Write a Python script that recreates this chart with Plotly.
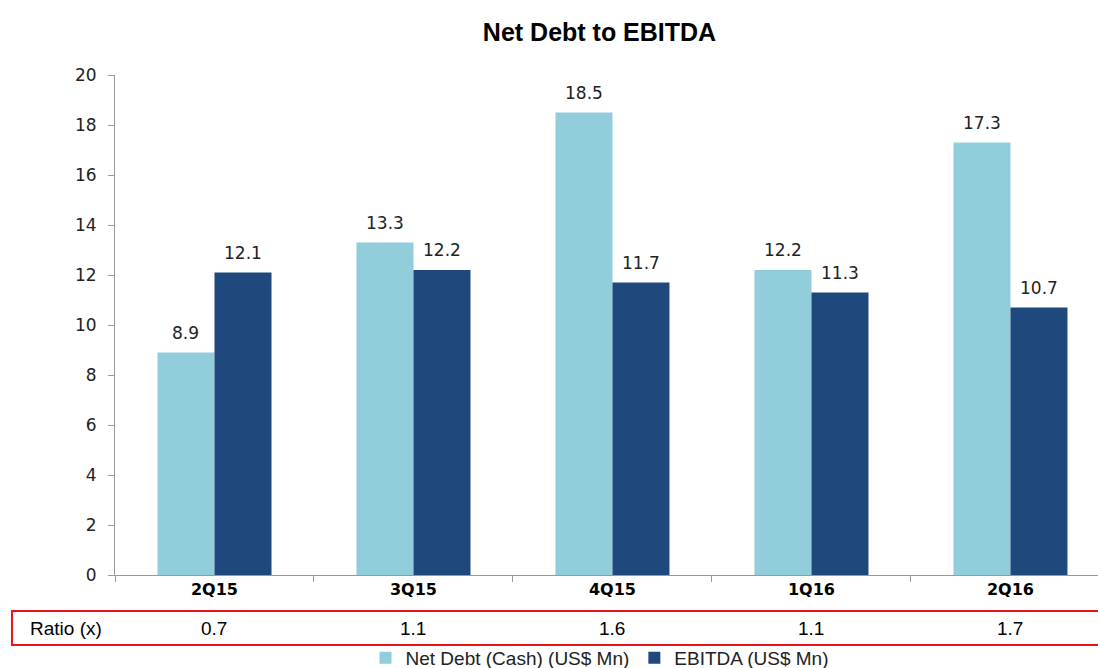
import plotly.graph_objects as go

categories = ["2Q15", "3Q15", "4Q15", "1Q16", "2Q16"]
net_debt = [8.9, 13.3, 18.5, 12.2, 17.3]
ebitda = [12.1, 12.2, 11.7, 11.3, 10.7]
ratios = ["0.7", "1.1", "1.6", "1.1", "1.7"]
y_ticks = [0, 2, 4, 6, 8, 10, 12, 14, 16, 18, 20]

LIGHT = "#92CDDC"
DARK = "#1F497D"

fig = go.Figure()
fig.add_trace(go.Bar(
    x=categories, y=net_debt, name="Net Debt (Cash) (US$ Mn)",
    marker=dict(color=LIGHT, line=dict(width=0)),
))
fig.add_trace(go.Bar(
    x=categories, y=ebitda, name="EBITDA (US$ Mn)",
    marker=dict(color=DARK, line=dict(width=0)),
))

# value labels above bars
for series, shift in ((net_debt, -28.5), (ebitda, 28.5)):
    for c, v in zip(categories, series):
        fig.add_annotation(x=c, y=v, xref="x", yref="y", text=f"{v:.1f}",
                           showarrow=False, xanchor="center", yanchor="bottom",
                           xshift=shift, yshift=8,
                           font=dict(family="DejaVu Sans", size=17, color="#222"))

fig.update_layout(
    width=1098, height=668,
    margin=dict(l=115, r=0, t=75, b=93, autoexpand=False),
    paper_bgcolor="white", plot_bgcolor="white",
    barmode="group", bargap=0.427, bargroupgap=0,
    title=dict(text="<b>Net Debt to EBITDA</b>", x=0.546, xanchor="center",
               xref="container", yref="container", y=1 - 32 / 668, yanchor="middle",
               font=dict(family="Liberation Sans", size=25, color="black")),
    showlegend=True,
    legend=dict(orientation="h", x=0.546, xanchor="center", xref="container",
                yref="container", y=1 - 658 / 668, yanchor="middle",
                font=dict(family="Liberation Sans", size=19, color="#222"),
                traceorder="normal", itemwidth=30, bgcolor="rgba(0,0,0,0)"),
    xaxis=dict(
        type="category", range=[-0.5, 4.44], automargin=False,
        showline=True, linecolor="#999", linewidth=1,
        ticks="outside", tickson="boundaries", ticklen=6, tickcolor="#999",
        tickfont=dict(family="DejaVu Sans", size=16, color="black", weight="bold"),
        showgrid=False,
    ),
    yaxis=dict(
        range=[0, 20], tickvals=y_ticks, automargin=False,
        showline=True, linecolor="#999", linewidth=1,
        ticks="outside", ticklen=6, tickcolor="#999",
        ticklabelstandoff=8,
        tickfont=dict(family="DejaVu Sans", size=17, color="#222"),
        showgrid=False, zeroline=False,
    ),
)

# Ratio row box
fig.add_shape(type="rect", xref="paper", yref="paper",
              x0=-0.1048, x1=1.01, y0=-0.14, y1=-0.072,
              line=dict(color="#E8141B", width=2), fillcolor="rgba(0,0,0,0)")
fig.add_annotation(xref="paper", yref="paper", x=-0.0497, y=-0.106, text="Ratio (x)",
                   showarrow=False, xanchor="center", yanchor="middle",
                   font=dict(family="Liberation Sans", size=19, color="black"))
for c, r in zip(categories, ratios):
    fig.add_annotation(x=c, xref="x", yref="paper", y=-0.106, text=r,
                       showarrow=False, xanchor="center", yanchor="middle",
                       font=dict(family="Liberation Sans", size=19, color="black"))

fig.write_html("out.html", config={"displayModeBar": False},
               post_script="document.body.style.margin='0';document.body.style.overflow='hidden';")
